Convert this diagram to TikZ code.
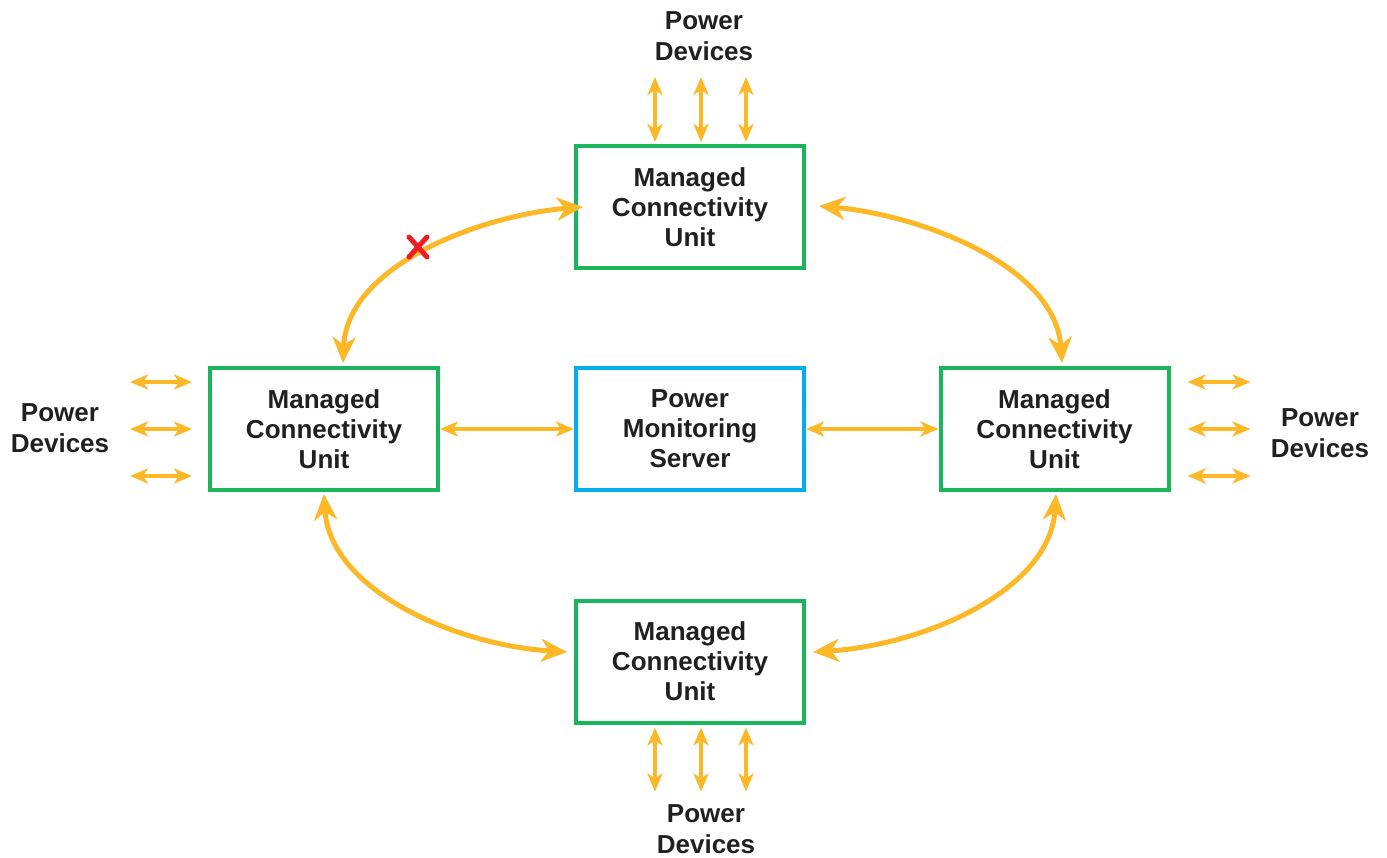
\documentclass[tikz,border=0pt]{standalone}
\usepackage{fontspec}
\setmainfont{Liberation Sans}
\usetikzlibrary{arrows.meta,calc}
\definecolor{arrorange}{HTML}{FDB827}
\definecolor{boxgreen}{HTML}{1BB55C}
\definecolor{boxblue}{HTML}{00AEEF}
\definecolor{xred}{HTML}{ED1C24}
\definecolor{txt}{HTML}{231F20}
\begin{document}
\begin{tikzpicture}[x=1pt,y=-1pt,
  unitbox/.style={draw=boxgreen,line width=4pt,minimum width=228pt,minimum height=122pt,
    align=center,font=\fontsize{26}{30}\selectfont\bfseries,text=txt,inner sep=0pt},
  serverbox/.style={unitbox,draw=boxblue},
  devlabel/.style={align=center,font=\fontsize{26}{31}\selectfont\bfseries,text=txt,inner sep=0pt},
  bigarrow/.style={draw=arrorange,line width=5pt,
    {Stealth[length=26pt,width=23pt,inset=8pt]}-{Stealth[length=26pt,width=23pt,inset=8pt]}},
  smallarrow/.style={draw=arrorange,line width=3.5pt,
    {Stealth[length=18pt,width=15pt,inset=5pt]}-{Stealth[length=18pt,width=15pt,inset=5pt]}},
  xmark/.style={draw=xred,line width=5pt,line cap=round}
]
\useasboundingbox (0,0) rectangle (1387,858);

% boxes
\node[unitbox] (top) at (690,207) {Managed\\Connectivity\\Unit};
\node[unitbox] (left) at (324,429) {Managed\\Connectivity\\Unit};
\node[serverbox] (center) at (690,429) {Power\\Monitoring\\Server};
\node[unitbox] (right) at (1054.5,429) {Managed\\Connectivity\\Unit};
\node[unitbox] (bottom) at (690,661.5) {Managed\\Connectivity\\Unit};

% device labels
\node[devlabel] (pdtop) at (704,36) {Power\\Devices};
\node[devlabel] (pdleft) at (60,428) {Power\\Devices};
\node[devlabel] (pdright) at (1320,433) {Power\\Devices};
\node[devlabel] (pdbottom) at (706,829) {Power\\Devices};

% horizontal links to server
\draw[smallarrow] (left.east) -- (center.west);
\draw[smallarrow] (center.east) -- (right.west);

% device arrows top
\foreach \dx [count=\i] in {-35,11,56}{
  \coordinate (tdev\i) at ($(top.north)+(\dx,-67)$);
  \draw[smallarrow] (tdev\i) -- ($(top.north)+(\dx,-2)$);
}
% device arrows bottom
\foreach \dx [count=\i] in {-35,11,56}{
  \coordinate (bdev\i) at ($(bottom.south)+(\dx,67)$);
  \draw[smallarrow] ($(bottom.south)+(\dx,3)$) -- (bdev\i);
}
% device arrows left
\foreach \dy [count=\i] in {-47,0,47}{
  \coordinate (ldev\i) at ($(left.west)+(-78,\dy)$);
  \draw[smallarrow] (ldev\i) -- ($(left.west)+(-16,\dy)$);
}
% device arrows right
\foreach \dy [count=\i] in {-47,0,47}{
  \coordinate (rdev\i) at ($(right.east)+(80,\dy)$);
  \draw[smallarrow] ($(right.east)+(17,\dy)$) -- (rdev\i);
}

% ring links
\draw[bigarrow] ($(top.west)+(9,0)$) .. controls (482,215) and (347,265) .. ($(left.north)+(19,-3)$);
\draw[bigarrow] ($(top.east)+(13,-1)$) .. controls (920,215) and (1055,265) .. ($(right.north)+(7.5,-3)$);
\draw[bigarrow] ($(left.south)+(0,2)$) .. controls (330,590) and (455,645) .. ($(bottom.west)+(-7,-9.5)$);
\draw[bigarrow] ($(right.south)+(1.5,2)$) .. controls (1050,590) and (925,645) .. ($(bottom.east)+(7,-9.5)$);

% broken link mark
\coordinate (xc) at (418,247);
\draw[xmark] ($(xc)+(-9,-10)$) -- ($(xc)+(9,10)$);
\draw[xmark] ($(xc)+(9,-10)$) -- ($(xc)+(-9,10)$);
\end{tikzpicture}
\end{document}
